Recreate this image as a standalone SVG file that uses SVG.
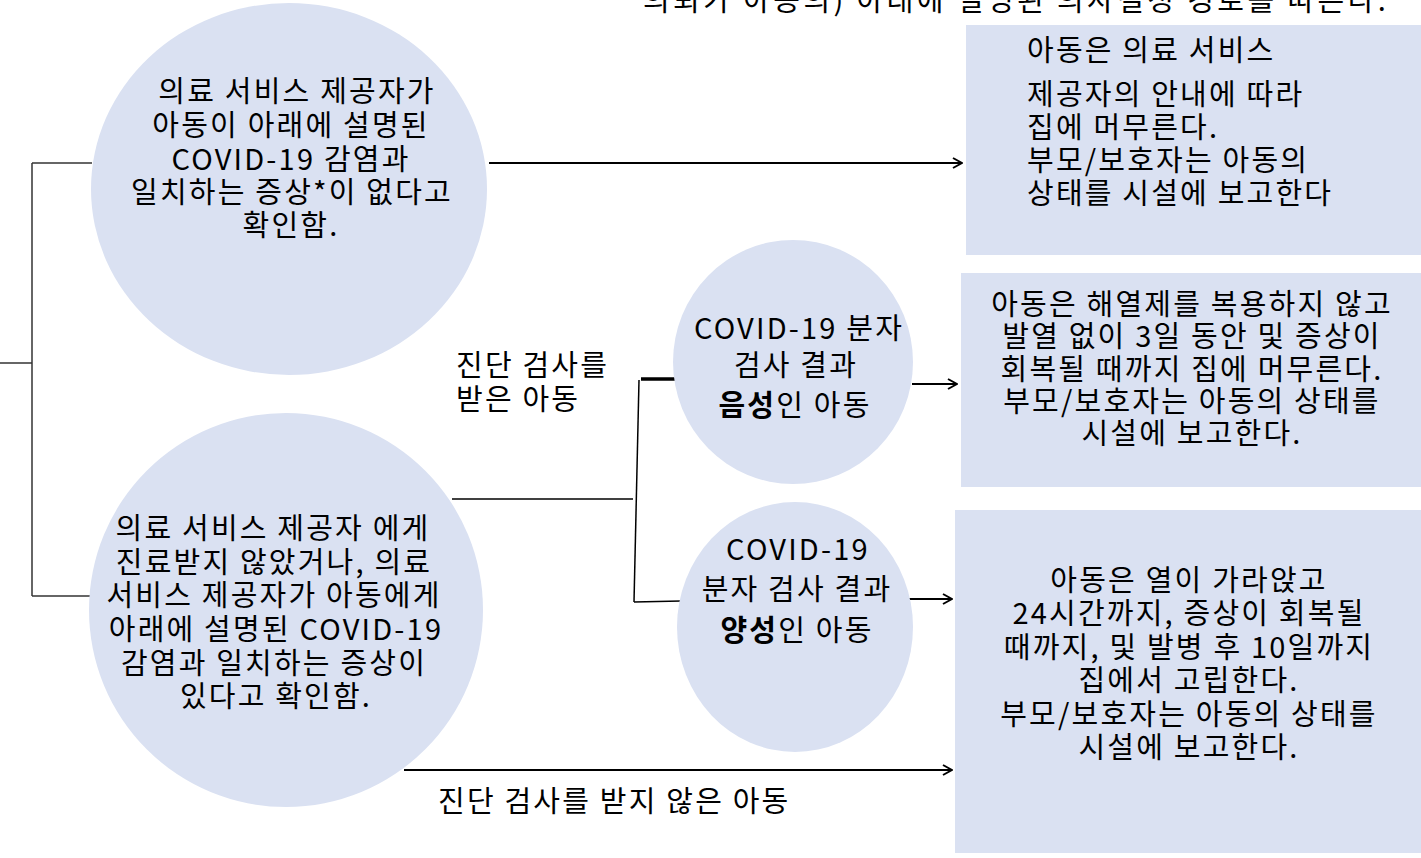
<svg xmlns="http://www.w3.org/2000/svg" width="1421" height="858" viewBox="0 0 1421 858">
<defs>
<style>
.n{fill:#DAE1F2;stroke:none}
.t{font-family:"Noto Sans CJK KR","Noto Sans",sans-serif;font-size:29px;letter-spacing:2.2px;fill:#000}
.c{text-anchor:middle}
.b{font-weight:bold}
.ln{stroke:#000;stroke-width:1.5;fill:none}
.gl{stroke:#333;stroke-width:1.5;fill:none}
.ar{stroke:#000;stroke-width:2;fill:none;marker-end:url(#arr)}
</style>
<marker id="arr" viewBox="0 0 12 12" refX="11" refY="6" markerWidth="12" markerHeight="12" markerUnits="userSpaceOnUse" orient="auto">
<path d="M2,1 L11,6 L2,11" fill="none" stroke="#000" stroke-width="2"/>
</marker>
</defs>
<rect width="1421" height="858" fill="#fff"/>
<text class="t" x="643" y="11" textLength="745" lengthAdjust="spacing">의뢰가 아동의) 아래에 설명된 의사결정 경로를 따른다.</text>

<g id="connectors">
<line class="gl" x1="0" y1="363" x2="32" y2="363"/>
<line class="gl" x1="32" y1="163" x2="32" y2="596"/>
<line class="gl" x1="32" y1="163" x2="92" y2="163"/>
<line class="gl" x1="32" y1="596" x2="90" y2="596"/>
<line class="ln" x1="452" y1="499" x2="633" y2="499"/>
<line class="ln" x1="639" y1="380" x2="634" y2="602"/>
<line x1="641" y1="379" x2="702" y2="379" stroke="#000" stroke-width="3.5"/>
<line class="ln" x1="634" y1="602" x2="681" y2="601"/>
<line class="ar" x1="489" y1="163" x2="962" y2="163"/>
<line class="ar" x1="912" y1="384" x2="957" y2="384"/>
<line class="ar" x1="909" y1="599" x2="952" y2="599"/>
<line class="ar" x1="404" y1="770" x2="952" y2="770"/>
<text class="t" x="456" y="376">진단 검사를</text>
<text class="t" x="456" y="410">받은 아동</text>
<text class="t" x="438" y="812">진단 검사를 받지 않은 아동</text>
</g>

<g id="node-no-symptoms">
<ellipse class="n" cx="289" cy="189" rx="198" ry="186"/>
<text class="t c" x="297" y="102">의료 서비스 제공자가</text>
<text class="t c" x="291" y="136">아동이 아래에 설명된</text>
<text class="t c" x="291" y="170">COVID-19 감염과</text>
<text class="t c" x="292" y="203">일치하는 증상*이 없다고</text>
<text class="t c" x="291" y="236">확인함.</text>
</g>

<g id="node-symptoms">
<ellipse class="n" cx="286" cy="610" rx="197" ry="197"/>
<text class="t c" x="273" y="539">의료 서비스 제공자 에게</text>
<text class="t c" x="274" y="573">진료받지 않았거나, 의료</text>
<text class="t c" x="274" y="606">서비스 제공자가 아동에게</text>
<text class="t c" x="276" y="640">아래에 설명된 COVID-19</text>
<text class="t c" x="274" y="674">감염과 일치하는 증상이</text>
<text class="t c" x="276" y="707">있다고 확인함.</text>
</g>

<g id="node-negative">
<ellipse class="n" cx="793" cy="362" rx="120" ry="122"/>
<text class="t c" x="799" y="339">COVID-19 분자</text>
<text class="t c" x="796" y="376">검사 결과</text>
<text class="t c" x="795" y="416"><tspan class="b">음성</tspan>인 아동</text>
</g>

<g id="node-positive">
<ellipse class="n" cx="795" cy="627" rx="118" ry="125"/>
<text class="t c" x="798" y="560">COVID-19</text>
<text class="t c" x="797" y="600">분자 검사 결과</text>
<text class="t c" x="797" y="641"><tspan class="b">양성</tspan>인 아동</text>
</g>

<g id="box-stay-home">
<rect class="n" x="966" y="25" width="455" height="230"/>
<text class="t" x="1027" y="61">아동은 의료 서비스</text>
<text class="t" x="1027" y="105">제공자의 안내에 따라</text>
<text class="t" x="1027" y="138">집에 머무른다.</text>
<text class="t" x="1027" y="171">부모/보호자는 아동의</text>
<text class="t" x="1027" y="204">상태를 시설에 보고한다</text>
</g>

<g id="box-negative">
<rect class="n" x="961" y="273" width="460" height="214"/>
<text class="t c" x="1192" y="315">아동은 해열제를 복용하지 않고</text>
<text class="t c" x="1192" y="347">발열 없이 3일 동안 및 증상이</text>
<text class="t c" x="1192" y="380">회복될 때까지 집에 머무른다.</text>
<text class="t c" x="1192" y="412">부모/보호자는 아동의 상태를</text>
<text class="t c" x="1192" y="444">시설에 보고한다.</text>
</g>

<g id="box-isolate">
<rect class="n" x="955" y="510" width="466" height="343"/>
<text class="t c" x="1189" y="591">아동은 열이 가라앉고</text>
<text class="t c" x="1189" y="624">24시간까지, 증상이 회복될</text>
<text class="t c" x="1189" y="658">때까지, 및 발병 후 10일까지</text>
<text class="t c" x="1189" y="691">집에서 고립한다.</text>
<text class="t c" x="1189" y="725">부모/보호자는 아동의 상태를</text>
<text class="t c" x="1189" y="758">시설에 보고한다.</text>
</g>
</svg>
